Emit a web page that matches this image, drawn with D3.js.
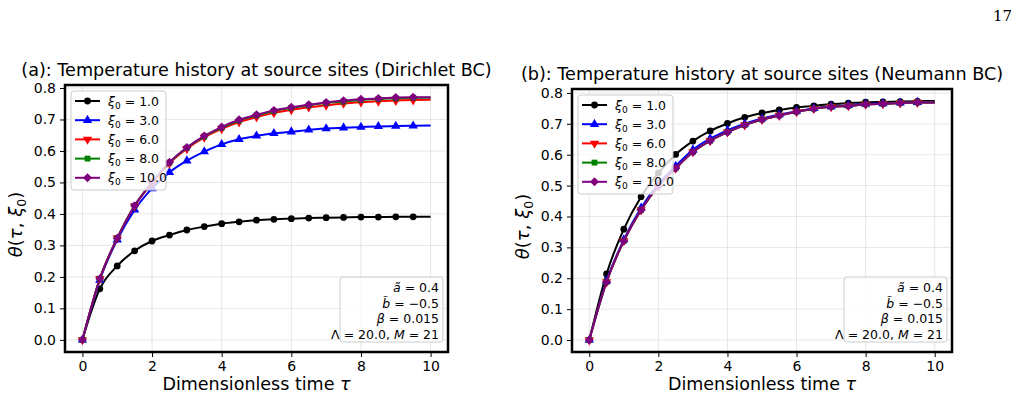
<!DOCTYPE html>
<html>
<head>
<meta charset="utf-8">
<script src="https://cdn.jsdelivr.net/npm/d3@7"></script>
<style>
  body { margin: 0; background: #fff; }
  svg { font-family: "DejaVu Sans", sans-serif; }
</style>
</head>
<body>
<svg id="chart" width="1018" height="401"></svg>
<script>
// dimensionless time samples
const tau = [0, 0.5, 1, 1.5, 2, 2.5, 3, 3.5, 4, 4.5, 5, 5.5, 6, 6.5, 7, 7.5, 8, 8.5, 9, 9.5, 10];
const xiLabels = ["1.0", "3.0", "6.0", "8.0", "10.0"];
const xTicks = [0, 2, 4, 6, 8, 10];
const yTicks = [0, 0.1, 0.2, 0.3, 0.4, 0.5, 0.6, 0.7, 0.8];

// (a) Dirichlet BC
const dirXi1  = [0, 0.162, 0.235, 0.283, 0.314, 0.333, 0.349, 0.360, 0.369, 0.375, 0.380, 0.383, 0.385, 0.387, 0.388, 0.389, 0.390, 0.390, 0.391, 0.391, 0.391];
const dirXi3  = [0, 0.190, 0.318, 0.413, 0.481, 0.532, 0.569, 0.598, 0.621, 0.637, 0.648, 0.656, 0.661, 0.667, 0.671, 0.674, 0.676, 0.678, 0.679, 0.680, 0.681];
const dirXi6  = [0, 0.194, 0.323, 0.425, 0.498, 0.561, 0.607, 0.643, 0.670, 0.692, 0.708, 0.721, 0.731, 0.739, 0.745, 0.751, 0.755, 0.758, 0.760, 0.762, 0.763];
const dirXi8  = [0, 0.194, 0.323, 0.426, 0.500, 0.563, 0.610, 0.646, 0.674, 0.697, 0.713, 0.727, 0.737, 0.745, 0.752, 0.757, 0.762, 0.765, 0.767, 0.769, 0.769];
const dirXi10 = [0, 0.194, 0.323, 0.426, 0.500, 0.564, 0.611, 0.648, 0.676, 0.699, 0.715, 0.729, 0.739, 0.747, 0.754, 0.760, 0.764, 0.767, 0.770, 0.771, 0.771];

// (b) Neumann BC
const neuXi1  = [0, 0.214, 0.359, 0.464, 0.541, 0.601, 0.644, 0.677, 0.701, 0.721, 0.735, 0.745, 0.753, 0.758, 0.764, 0.767, 0.770, 0.771, 0.772, 0.773, 0.774];
const neuXi3  = [0, 0.192, 0.325, 0.428, 0.505, 0.563, 0.616, 0.652, 0.679, 0.700, 0.717, 0.730, 0.741, 0.750, 0.756, 0.760, 0.764, 0.766, 0.768, 0.770, 0.770];
const neuXi6  = [0, 0.188, 0.321, 0.421, 0.498, 0.556, 0.609, 0.645, 0.673, 0.696, 0.714, 0.727, 0.739, 0.749, 0.755, 0.758, 0.763, 0.765, 0.767, 0.769, 0.769];
const neuXi8  = [0, 0.188, 0.321, 0.421, 0.498, 0.556, 0.609, 0.645, 0.673, 0.696, 0.714, 0.727, 0.739, 0.749, 0.755, 0.758, 0.763, 0.765, 0.767, 0.769, 0.769];
const neuXi10 = [0, 0.188, 0.321, 0.421, 0.498, 0.556, 0.609, 0.645, 0.673, 0.696, 0.714, 0.727, 0.739, 0.749, 0.755, 0.758, 0.763, 0.765, 0.767, 0.769, 0.769];

const colors = ["#000000", "#0000ff", "#ff0000", "#008000", "#800080"];
const markers = ["circle", "up", "down", "square", "diamond"];

const svg = d3.select("#chart");

// page number
svg.append("text").attr("x", 1012).attr("y", 21).attr("text-anchor", "end")
  .style("font-family", "'DejaVu Serif', serif").style("font-size", "15px").text("17");

function markerPath(kind) {
  if (kind === "circle") return d3.symbol(d3.symbolCircle, 36)();
  if (kind === "up" || kind === "down") return d3.symbol(d3.symbolTriangle, 38)();
  if (kind === "square") return d3.symbol(d3.symbolSquare, 34)();
  return d3.symbol(d3.symbolSquare, 40)();
}
function markerRot(kind) {
  if (kind === "down") return " rotate(180)";
  if (kind === "diamond") return " rotate(45)";
  return "";
}

function drawPanel(p) {
  const x = d3.scaleLinear().domain([-0.5, 10.5]).range([p.left, p.right]);
  const ymax = d3.max(p.series.flat());
  const pad = ymax * 0.05;
  const y = d3.scaleLinear().domain([-pad, ymax + pad]).range([p.bottom, p.top]);
  const g = svg.append("g");

  // grid
  g.selectAll(".gx").data(xTicks).enter().append("line")
    .attr("x1", d => x(d)).attr("x2", d => x(d)).attr("y1", p.top).attr("y2", p.bottom)
    .attr("stroke", "#b0b0b0").attr("stroke-opacity", 0.3).attr("stroke-width", 1);
  g.selectAll(".gy").data(yTicks).enter().append("line")
    .attr("y1", d => y(d)).attr("y2", d => y(d)).attr("x1", p.left).attr("x2", p.right)
    .attr("stroke", "#b0b0b0").attr("stroke-opacity", 0.3).attr("stroke-width", 1);

  // axes
  const xAxis = g.append("g").attr("transform", `translate(0,${p.bottom})`)
    .call(d3.axisBottom(x).tickValues(xTicks).tickFormat(d3.format("d")).tickSize(5).tickPadding(4));
  const yAxis = g.append("g").attr("transform", `translate(${p.left},0)`)
    .call(d3.axisLeft(y).tickValues(yTicks).tickFormat(d3.format(".1f")).tickSize(5).tickPadding(4));
  [xAxis, yAxis].forEach(a => {
    a.select(".domain").remove();
    a.selectAll("text").style("font-size", "14px").style("font-family", "'DejaVu Sans', sans-serif").attr("fill", "#000");
    a.selectAll("line").attr("stroke", "#000").attr("stroke-width", 1);
  });

  // lines + markers
  const line = d3.line().x((d, i) => x(tau[i])).y(d => y(d)).curve(d3.curveMonotoneX);
  p.series.forEach((vals, k) => {
    g.append("path").datum(vals).attr("d", line)
      .attr("fill", "none").attr("stroke", colors[k]).attr("stroke-width", 2);
    g.selectAll(".m" + k).data(vals.slice(0, vals.length - 1)).enter().append("path")
      .attr("d", markerPath(markers[k]))
      .attr("transform", (d, i) => `translate(${x(tau[i])},${y(d)})` + markerRot(markers[k]))
      .attr("fill", colors[k]);
  });

  // frame
  g.append("rect").attr("x", p.left).attr("y", p.top)
    .attr("width", p.right - p.left).attr("height", p.bottom - p.top)
    .attr("fill", "none").attr("stroke", "#000").attr("stroke-width", 2.5);

  // title
  g.append("text").attr("x", (p.left + p.right) / 2).attr("y", p.top - 9.5)
    .attr("text-anchor", "middle").style("font-size", "17.6px").text(p.title);

  // x label
  const xl = g.append("text").attr("x", (p.left + p.right) / 2).attr("y", 390)
    .attr("text-anchor", "middle").style("font-size", "17.5px");
  xl.append("tspan").text("Dimensionless time ");
  xl.append("tspan").style("font-style", "italic").text("τ");

  // y label
  const yl = g.append("text").attr("transform", `translate(${p.left - 43},${(p.top + p.bottom) / 2 + 6}) rotate(-90)`)
    .attr("text-anchor", "middle").style("font-size", "18px");
  yl.append("tspan").style("font-style", "italic").text("θ");
  yl.append("tspan").text("(");
  yl.append("tspan").style("font-style", "italic").text("τ");
  yl.append("tspan").text(", ");
  yl.append("tspan").style("font-style", "italic").text("ξ");
  yl.append("tspan").attr("dy", 4).style("font-size", "12.5px").text("0");
  yl.append("tspan").attr("dy", -4).text(")");

  // legend
  const lg = g.append("g").attr("transform", `translate(${p.legX},${p.legY})`);
  lg.append("rect").attr("width", 95).attr("height", 99).attr("rx", 3)
    .attr("fill", "#fff").attr("fill-opacity", 0.8).attr("stroke", "#cccccc").attr("stroke-width", 1);
  xiLabels.forEach((lab, k) => {
    const cy = 10 + k * 19.2;
    lg.append("line").attr("x1", 4).attr("x2", 29).attr("y1", cy).attr("y2", cy)
      .attr("stroke", colors[k]).attr("stroke-width", 2);
    lg.append("path").attr("d", markerPath(markers[k]))
      .attr("transform", `translate(16.5,${cy})` + markerRot(markers[k])).attr("fill", colors[k]);
    const t = lg.append("text").attr("x", 37).attr("y", cy + 4.5).style("font-size", "12.5px");
    t.append("tspan").style("font-style", "italic").text("ξ");
    t.append("tspan").attr("dy", 3).style("font-size", "9px").text("0");
    t.append("tspan").attr("dy", -3).text(" = " + lab);
  });

  // parameter box
  const bx = p.right - 108, by = p.bottom - 75;
  const bg = g.append("g");
  bg.append("rect").attr("x", bx).attr("y", by).attr("width", 103).attr("height", 65).attr("rx", 3)
    .attr("fill", "#fff").attr("fill-opacity", 0.8).attr("stroke", "#cccccc").attr("stroke-width", 1);
  const tx = p.right - 9;
  const lines = [
    [["ã", true], [" = 0.4", false]],
    [["b̃", true], [" =  −0.5", false]],
    [["β", true], [" = 0.015", false]],
    [["Λ = 20.0, ", false], ["M", true], [" = 21", false]]
  ];
  lines.forEach((parts, i) => {
    const t = bg.append("text").attr("x", tx).attr("y", by + 15 + i * 15.5)
      .attr("text-anchor", "end").style("font-size", "12.5px");
    parts.forEach(([s, it]) => t.append("tspan").style("font-style", it ? "italic" : "normal").text(s));
  });
}

drawPanel({
  left: 65, right: 448, top: 85, bottom: 352,
  legX: 71, legY: 91,
  title: "(a): Temperature history at source sites (Dirichlet BC)",
  series: [dirXi1, dirXi3, dirXi6, dirXi8, dirXi10]
});
drawPanel({
  left: 572, right: 952, top: 89, bottom: 352,
  legX: 578, legY: 95,
  title: "(b): Temperature history at source sites (Neumann BC)",
  series: [neuXi1, neuXi3, neuXi6, neuXi8, neuXi10]
});
</script>
</body>
</html>
